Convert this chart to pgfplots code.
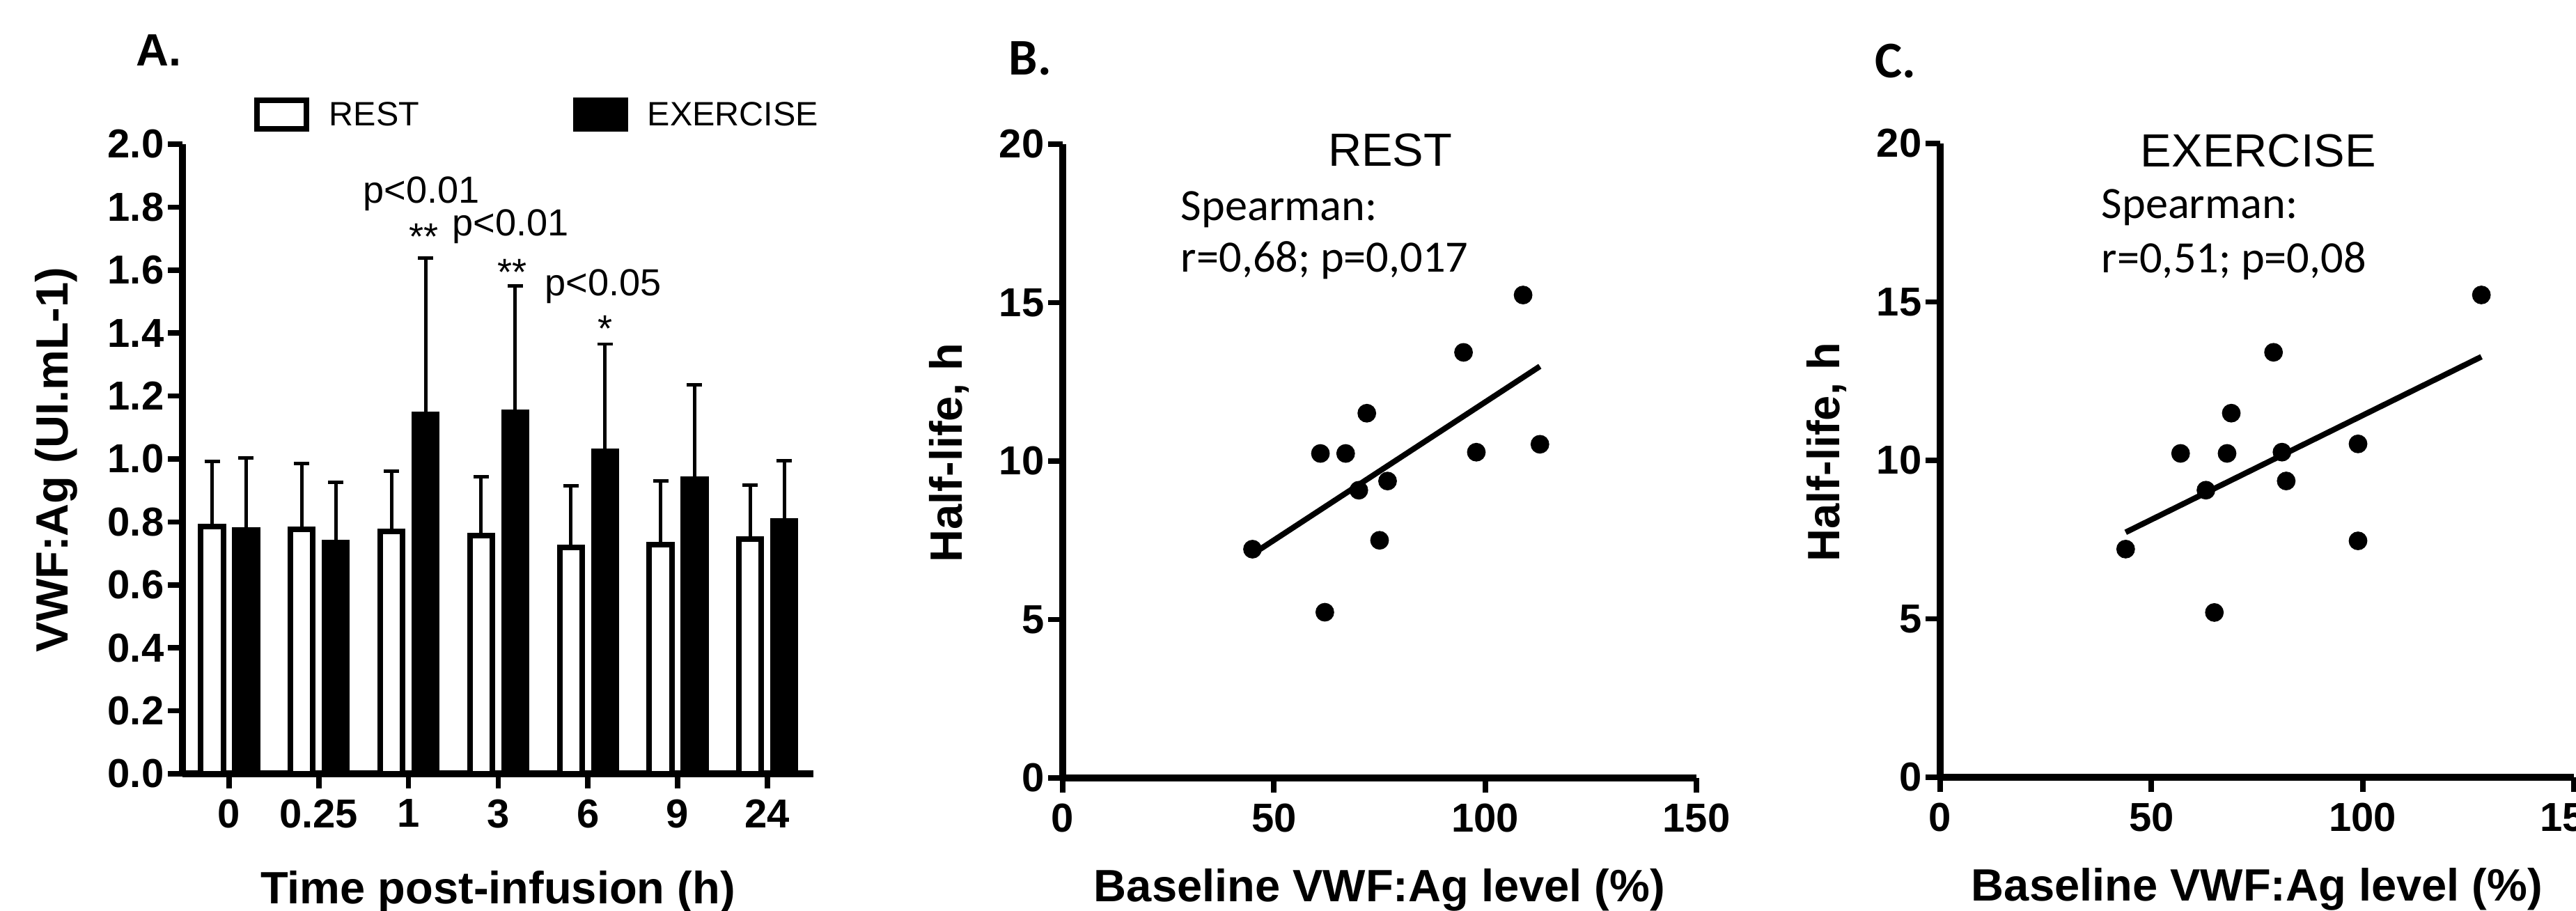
\documentclass[border=0pt]{standalone}
\usepackage{pgfplots}
\usepackage{pgfplotstable}
\pgfplotsset{compat=1.18}
\usepackage{fontspec}
\setmainfont{Liberation Sans}
\newfontfamily\calibri{Carlito}

\pgfplotstableread{
x y e
0 0.786 0.206
1 0.777 0.208
2 0.769 0.192
3 0.756 0.188
4 0.719 0.196
5 0.728 0.202
6 0.745 0.172
}\restA
\pgfplotstableread{
x y e
0 0.774 0.229
1 0.735 0.190
2 1.141 0.498
3 1.148 0.402
4 1.024 0.341
5 0.935 0.300
6 0.804 0.191
}\exA
\pgfplotstableread{
x y
108.97 15.24
94.87 13.43
71.98 11.51
61.0 10.24
66.97 10.24
97.9 10.28
112.95 10.53
76.89 9.37
70.08 9.08
75.0 7.50
44.92 7.22
62.04 5.23
}\restB
\pgfplotstableread{
x y
128.1 15.22
78.9 13.41
68.9 11.49
56.9 10.22
67.9 10.22
80.9 10.26
98.9 10.52
81.9 9.35
62.9 9.06
98.9 7.46
43.9 7.20
64.9 5.20
}\exC

\pgfplotsset{
  myaxis/.style={
    scale only axis, anchor=south west, clip=false,
    axis x line*=bottom, axis y line*=left,
    axis line style={line width=2.6pt, black},
    tick align=outside, major tick length=2.1mm,
    tick style={line width=2.2pt, black},
    /pgf/number format/assume math mode=true,
    tick label style={font=\bfseries\fontsize{16.5}{18}\selectfont},
    xticklabel style={inner sep=0pt, yshift=-1.5mm},
    yticklabel style={inner sep=0pt, xshift=-0.5mm},
    label style={font=\bfseries\fontsize{18.5}{20}\selectfont},
  },
  myerr/.style={draw=none, mark=none, forget plot,
    error bars/.cd, y dir=plus, y explicit,
    error bar style={draw=black, line width=1.4pt},
    error mark=-,
    error mark options={rotate=90, draw=black, line width=1.4pt, mark size=1.1mm}},
}

\begin{document}
\begin{tikzpicture}
% ---------------- Panel A ----------------
\begin{axis}[myaxis,
  at={(26.2mm,19.6mm)}, width=90.6mm, height=90.4mm,
  xmin=-0.52, xmax=6.514, ymin=0, ymax=2,
  xtick={0,1,2,3,4,5,6}, xticklabels={0,0.25,1,3,6,9,24},
  ytick={0,0.2,0.4,0.6,0.8,1,1.2,1.4,1.6,1.8,2},
  yticklabel style={/pgf/number format/.cd, fixed, fixed zerofill, precision=1},
  xlabel={Time post-infusion (h)},
  xlabel style={at={(axis description cs:0.5,-0.2058)}, anchor=base},
  ylabel={VWF:Ag (UI.mL-1)},
  ylabel style={at={(axis description cs:-0.1821,0.4989)}, anchor=base},
]
\addplot[myerr] table[x expr=\thisrow{x}-0.19, y=y, y error=e] {\restA};
\addplot[myerr] table[x expr=\thisrow{x}+0.19, y=y, y error=e] {\exA};
\addplot[ybar, bar width=0.25, bar shift=-0.19, draw=black, fill=white, line width=2.3pt]
  table[x=x, y=y] {\restA};
\addplot[ybar, bar width=0.25, bar shift=0.19, draw=black, fill=black, line width=2.3pt]
  table[x=x, y=y] {\exA};
% legend
\draw[line width=2.3pt, fill=white] (axis description cs:0.1181,1.0697) rectangle (axis description cs:0.1965,1.0243);
\node[anchor=base west, inner sep=0pt, font=\fontsize{13.8}{15}\selectfont] at (axis description cs:0.2318,1.0288) {REST};
\draw[line width=2.3pt, fill=black] (axis description cs:0.6236,1.0697) rectangle (axis description cs:0.7020,1.0243);
\node[anchor=base west, inner sep=0pt, font=\fontsize{13.8}{15}\selectfont] at (axis description cs:0.7362,1.0288) {EXERCISE};
% significance
\begin{scope}[every node/.style={anchor=base, inner sep=0pt, font=\fontsize{15.4}{17}\selectfont}]
\node at (axis cs:2.143,1.812) {p<0.01};
\node at (axis cs:2.174,1.664) {**};
\node at (axis cs:3.137,1.710) {p<0.01};
\node at (axis cs:3.160,1.553) {**};
\node at (axis cs:4.169,1.518) {p<0.05};
\node at (axis cs:4.193,1.372) {*};
\end{scope}
\end{axis}

% ---------------- Panel B ----------------
\begin{axis}[myaxis,
  at={(152.6mm,19.0mm)}, width=91mm, height=91mm,
  xmin=0, xmax=150, ymin=0, ymax=20,
  xtick={0,50,100,150}, ytick={0,5,10,15,20},
  xlabel={Baseline VWF:Ag level (\%)},
  xlabel style={at={(axis description cs:0.5,-0.1945)}, anchor=base},
  ylabel={Half-life, h},
  ylabel style={at={(axis description cs:-0.159,0.513)}, anchor=base},
]
\addplot[only marks, mark=*, mark size=1.27mm, black] table[x=x, y=y] {\restB};
\addplot[black, line width=2.3pt] coordinates {(44.9,7.06) (112.95,12.99)};
\node[anchor=base, inner sep=0pt, font=\fontsize{19}{21}\selectfont] at (axis cs:77.5,19.3) {REST};
\node[anchor=base west, inner sep=0pt, font=\calibri\fontsize{18.3}{20}\selectfont] at (axis cs:27.9,17.59) {Spearman:};
\node[anchor=base west, inner sep=0pt, font=\calibri\fontsize{18.3}{20}\selectfont] at (axis cs:27.9,15.96) {r=0,68; p=0,017};
\end{axis}

% ---------------- Panel C ----------------
\begin{axis}[myaxis,
  at={(278.6mm,19.1mm)}, width=91mm, height=91mm,
  xmin=0, xmax=150, ymin=0, ymax=20,
  xtick={0,50,100,150}, ytick={0,5,10,15,20},
  xlabel={Baseline VWF:Ag level (\%)},
  xlabel style={at={(axis description cs:0.5,-0.1945)}, anchor=base},
  ylabel={Half-life, h},
  ylabel style={at={(axis description cs:-0.159,0.513)}, anchor=base},
]
\addplot[only marks, mark=*, mark size=1.27mm, black] table[x=x, y=y] {\exC};
\addplot[black, line width=2.3pt] coordinates {(43.9,7.73) (128.1,13.27)};
\node[anchor=base, inner sep=0pt, font=\fontsize{19}{21}\selectfont] at (axis cs:75.3,19.26) {EXERCISE};
\node[anchor=base west, inner sep=0pt, font=\calibri\fontsize{18.3}{20}\selectfont] at (axis cs:38.1,17.64) {Spearman:};
\node[anchor=base west, inner sep=0pt, font=\calibri\fontsize{18.3}{20}\selectfont] at (axis cs:38.1,15.93) {r=0,51; p=0,08};
\end{axis}

% panel letters
\node[anchor=base west, inner sep=0pt, font=\bfseries\fontsize{18.5}{20}\selectfont] at (19.5mm,121.2mm) {A.};
\node[anchor=base west, inner sep=0pt, font=\calibri\bfseries\fontsize{21}{23}\selectfont] at (144.8mm,119.9mm) {B.};
\node[anchor=base west, inner sep=0pt, font=\calibri\bfseries\fontsize{21}{23}\selectfont] at (269.2mm,119.5mm) {C.};

\pgfresetboundingbox
\useasboundingbox (0,0) rectangle (369.9mm,130.7mm);
\end{tikzpicture}
\end{document}
